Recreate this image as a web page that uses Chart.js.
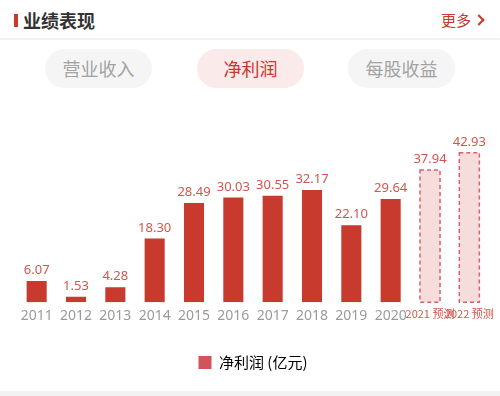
<!DOCTYPE html>
<html>
<head>
<meta charset="utf-8">
<script src="https://cdn.jsdelivr.net/npm/chart.js@4.4.0/dist/chart.umd.min.js"></script>
<style>
  html, body { margin: 0; padding: 0; background: #fff; }
  body { width: 500px; height: 396px; position: relative; overflow: hidden;
         font-family: "Noto Sans CJK SC", "Noto Sans", sans-serif; }
  .mark { position: absolute; left: 14px; top: 14px; width: 4px; height: 13px; background: #c8392e; }
  .title { position: absolute; left: 23px; top: 7px; font-size: 18px; font-weight: bold; color: #333; line-height: 26px; }
  .more { position: absolute; left: 441px; top: 8px; font-size: 15px; color: #c8392e; line-height: 24px; }
  .chev { position: absolute; left: 475px; top: 16px; width: 6px; height: 6px;
          border-top: 2px solid #c8392e; border-right: 2px solid #c8392e; transform: rotate(45deg); }
  .divider { position: absolute; left: 0; top: 38px; width: 500px; height: 2px; background: #f1f1f1; }
  .tab { position: absolute; top: 49px; width: 107px; height: 39px; border-radius: 20px;
         background: #f5f5f5; color: #a3a3a3; font-size: 18px; line-height: 39px; text-align: center; }
  .tab.on { background: #fbeaea; color: #c8392e; }
  .footer { position: absolute; left: 0; top: 391px; width: 500px; height: 5px; background: #f2f2f2; }
  #wrap { position: absolute; left: 0; top: 100px; width: 500px; height: 290px; }
</style>
</head>
<body>
<div class="mark"></div>
<div class="title">业绩表现</div>
<div class="more">更多</div>
<div class="chev"></div>
<div class="divider"></div>
<div class="tab" style="left:45px">营业收入</div>
<div class="tab on" style="left:197px">净利润</div>
<div class="tab" style="left:348px">每股收益</div>
<div id="wrap"><canvas id="profitChart"></canvas></div>
<div class="footer"></div>
<script>
const years = ['2011', '2012', '2013', '2014', '2015', '2016', '2017', '2018', '2019', '2020', '2021 预测', '2022 预测'];
const netProfit = [6.07, 1.53, 4.28, 18.30, 28.49, 30.03, 30.55, 32.17, 22.10, 29.64, 37.94, 42.93];
const isForecast = [false, false, false, false, false, false, false, false, false, false, true, true];

const barRed = '#c8392e';
const forecastFill = '#f7dcdc';
const forecastLine = '#d9626a';

// value labels above bars + dashed outline for the forecast bars
const barExtras = {
    id: 'barExtras',
    afterDatasetsDraw(chart) {
        const ctx = chart.ctx;
        const meta = chart.getDatasetMeta(0);
        meta.data.forEach((bar, i) => {
            if (isForecast[i]) {
                ctx.save();
                ctx.strokeStyle = forecastLine;
                ctx.lineWidth = 1.5;
                ctx.setLineDash([4, 3]);
                ctx.strokeRect(bar.x - bar.width / 2, bar.y, bar.width, bar.base - bar.y);
                ctx.restore();
            }
            ctx.save();
            ctx.fillStyle = '#d2564c';
            ctx.font = '13px "Noto Sans", "Noto Sans CJK SC", sans-serif';
            ctx.textAlign = 'center';
            ctx.textBaseline = 'bottom';
            ctx.fillText(netProfit[i].toFixed(2), bar.x, bar.y - 4);
            ctx.restore();
        });
    }
};

const ctx = document.getElementById('profitChart').getContext('2d');
const profitChart = new Chart(ctx, {
    type: 'bar',
    data: {
        labels: years,
        datasets: [{
            label: '净利润 (亿元)',
            data: netProfit,
            backgroundColor: isForecast.map(f => f ? forecastFill : barRed),
            borderWidth: 0,
            barPercentage: 0.51,
            categoryPercentage: 1
        }]
    },
    options: {
        responsive: true,
        maintainAspectRatio: false,
        animation: false,
        layout: { padding: { top: 28, left: 17, right: 11, bottom: 10 } },
        plugins: {
            tooltip: { enabled: false },
            legend: {
                position: 'bottom',
                labels: {
                    boxWidth: 13,
                    boxHeight: 13,
                    padding: 26,
                    color: '#222',
                    font: { size: 15, family: '"Noto Sans CJK SC", "Noto Sans", sans-serif' },
                    generateLabels: () => [{
                        text: '净利润 (亿元)',
                        fillStyle: '#d0545a',
                        strokeStyle: '#d0545a',
                        lineWidth: 0,
                        datasetIndex: 0
                    }]
                }
            }
        },
        scales: {
            x: {
                grid: { display: false, drawTicks: false },
                border: { display: false },
                ticks: {
                    autoSkip: false,
                    maxRotation: 0,
                    padding: 5,
                    color: (c) => isForecast[c.index] ? '#d2564c' : '#9a9a9a',
                    font: (c) => isForecast[c.index]
                        ? { size: 11, family: '"Noto Sans CJK SC", "Noto Sans", sans-serif' }
                        : { size: 14, family: '"Noto Sans", sans-serif' }
                }
            },
            y: {
                display: false,
                min: 0,
                max: 50
            }
        }
    },
    plugins: [barExtras]
});
</script>
</body>
</html>
